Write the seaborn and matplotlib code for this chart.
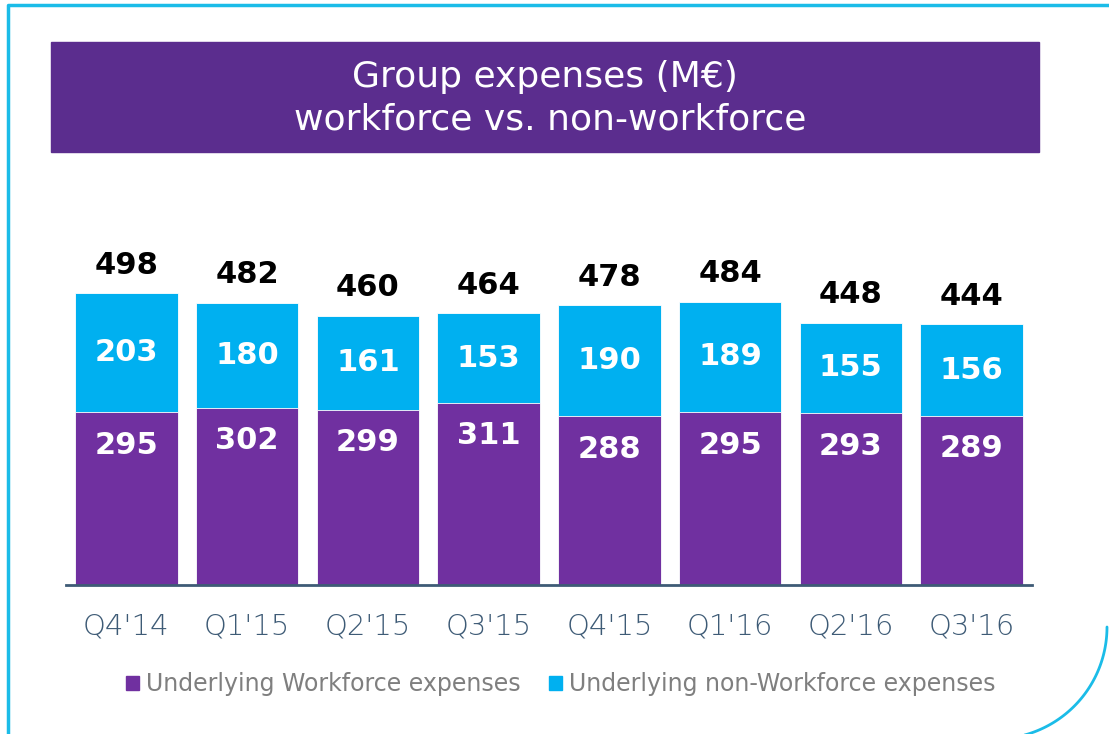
import matplotlib
matplotlib.use("Agg")
import matplotlib.pyplot as plt
import matplotlib.patches as patches
import seaborn as sns
import numpy as np

# Data
quarters = ["Q4'14", "Q1'15", "Q2'15", "Q3'15", "Q4'15", "Q1'16", "Q2'16", "Q3'16"]
workforce = [295, 302, 299, 311, 288, 295, 293, 289]
non_workforce = [203, 180, 161, 153, 190, 189, 155, 156]
totals = [498, 482, 460, 464, 478, 484, 448, 444]

purple = "#7030A0"
cyan = "#00B0F0"
title_bg = "#5B2D8E"
axis_col = "#3E5B76"

sns.set_theme(style="white")
plt.rcParams['font.family'] = ['DejaVu Sans']

W, H = 1109, 734
fig = plt.figure(figsize=(W / 100, H / 100), dpi=100)

# axes placed in pixel terms
ax_left, ax_right, ax_bottom, ax_top = 66, 1032, 585, 240
ax = fig.add_axes([ax_left / W, 1 - ax_bottom / H, (ax_right - ax_left) / W, (ax_bottom - ax_top) / H])

# stacked bars: draw totals (cyan) behind, workforce (purple) in front
stack_top = [w + n for w, n in zip(workforce, non_workforce)]
sns.barplot(x=quarters, y=stack_top, color=cyan, width=0.85, saturation=1,
            edgecolor="white", linewidth=0.6, ax=ax)
sns.barplot(x=quarters, y=workforce, color=purple, width=0.85, saturation=1,
            edgecolor="white", linewidth=0.6, ax=ax)

ax.set_xlim(-0.5, 7.5)
ax.set_ylim(0, 589)
ax.set_yticks([])
ax.set_xlabel("")
ax.set_ylabel("")
for s in ["top", "right", "left"]:
    ax.spines[s].set_visible(False)
ax.spines["bottom"].set_color(axis_col)
ax.spines["bottom"].set_linewidth(2)
ax.tick_params(axis="x", length=0, pad=20, labelsize=21, labelcolor=axis_col)
for lbl in ax.get_xticklabels():
    lbl.set_fontweight("light")

# value labels
for i in range(len(quarters)):
    ax.text(i, workforce[i] - 56, str(workforce[i]), ha="center", va="center",
            color="white", fontsize=22, fontweight="bold")
    ax.text(i, workforce[i] + non_workforce[i] / 2, str(non_workforce[i]), ha="center",
            va="center", color="white", fontsize=22, fontweight="bold")
    ax.annotate(str(totals[i]), (i, stack_top[i]), xytext=(0, 20), textcoords="offset points",
                ha="center", va="center", color="black", fontsize=22, fontweight="bold")

# title banner
fig.patches.append(patches.Rectangle((51 / W, 1 - 152 / H), (1039 - 51) / W, (152 - 42) / H,
                                     transform=fig.transFigure, color=title_bg, zorder=0))
fig.text(545 / W, 1 - 77 / H, "Group expenses (M€)", ha="center", va="center",
         color="white", fontsize=26)
fig.text(550 / W, 1 - 120 / H, "workforce vs. non-workforce", ha="center", va="center",
         color="white", fontsize=26)

# legend
handles = [patches.Patch(color=purple, label="Underlying Workforce expenses"),
           patches.Patch(color=cyan, label="Underlying non-Workforce expenses")]
fig.legend(handles=handles, loc="center", bbox_to_anchor=(561 / W, 1 - 684 / H), ncol=2,
           frameon=False, fontsize=17, labelcolor="#7F7F7F", handlelength=0.55,
           handleheight=0.55, handletextpad=0.3, columnspacing=1.2)

# cyan frame
border = "#1BBCE8"
fig.lines.append(plt.Line2D([8 / W, 8 / W, 1], [0, 1 - 5 / H, 1 - 5 / H], transform=fig.transFigure,
                            color=border, linewidth=2.5))
theta = np.linspace(0, np.pi / 2, 80)
cx, cy, r = 995, 627, 112
fig.lines.append(plt.Line2D((cx + r * np.cos(theta)) / W, 1 - (cy + r * np.sin(theta)) / H,
                            transform=fig.transFigure, color=border, linewidth=2))

fig.savefig("out.png", dpi=100)
